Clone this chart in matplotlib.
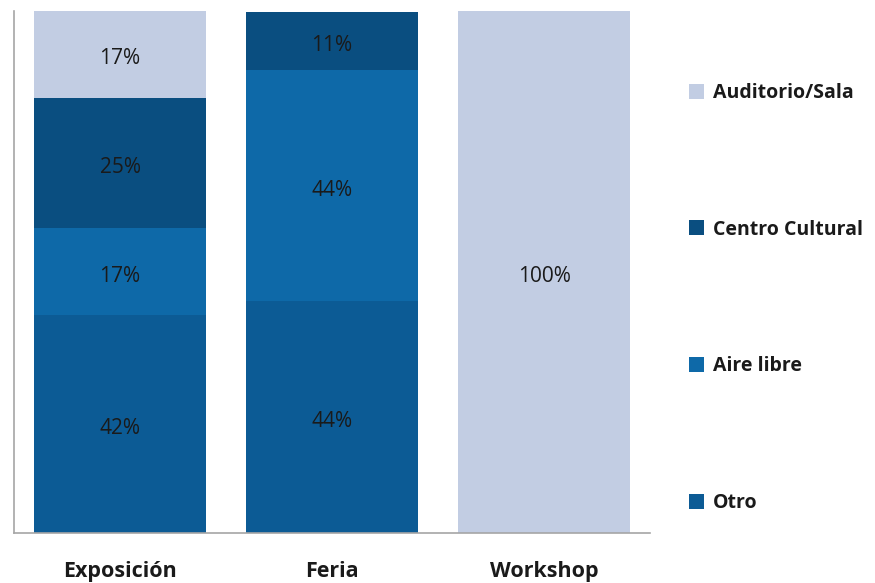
import matplotlib
matplotlib.use("Agg")
import matplotlib.pyplot as plt
import numpy as np

plt.rcParams['font.family'] = ['Open Sans', 'DejaVu Sans']

# Share of each venue type per event type (%)
events = ['Exposición', 'Feria', 'Workshop']
venues = ['Otro', 'Aire libre', 'Centro Cultural', 'Auditorio/Sala']
shares = {
    'Otro':            [41.7, 44.4, 0.0],
    'Aire libre':      [16.7, 44.4, 0.0],
    'Centro Cultural': [25.0, 11.1, 0.0],
    'Auditorio/Sala':  [16.7, 0.0, 100.0],
}
colors = {
    'Otro': '#0c5b95',
    'Aire libre': '#0e69a8',
    'Centro Cultural': '#0a4e80',
    'Auditorio/Sala': '#c2cde3',
}

fig = plt.figure(figsize=(8.75, 5.83), dpi=100)
ax = fig.add_axes([0.016, 0.086, 0.727, 0.895])

x = np.arange(len(events))
bottom = np.zeros(len(events))
handles = []
for v in venues:
    vals = np.array(shares[v])
    bars = ax.bar(x, vals, width=0.81, bottom=bottom, color=colors[v], label=v)
    handles.append(bars)
    for xi, b, val in zip(x, bottom, vals):
        if val > 0:
            ax.annotate(f'{val:.0f}%', (xi, b + val / 2), xytext=(0, -3.5),
                        textcoords='offset points', ha='center', va='center',
                        fontsize=15, color='#1a1a1a')
    bottom += vals

ax.set_xlim(-0.5, 2.5)
ax.set_ylim(0, 100)
ax.set_yticks([])
ax.set_xticks(x)
ax.set_xticklabels(events, fontsize=15.5, fontweight='bold', color='#1a1a1a')
ax.tick_params(axis='x', length=0, pad=20)
for s in ['top', 'right']:
    ax.spines[s].set_visible(False)
for s in ['left', 'bottom']:
    ax.spines[s].set_color('#a6a6a6')
    ax.spines[s].set_linewidth(1.2)

leg = fig.legend(handles[::-1], venues[::-1], loc='center left',
                 bbox_to_anchor=(0.767, 0.489), frameon=False,
                 prop={'size': 14, 'weight': 'bold'},
                 labelspacing=6.0, handlelength=0.8, handleheight=0.8,
                 handletextpad=0.45)
for t in leg.get_texts():
    t.set_color('#1a1a1a')

fig.savefig('out.png', dpi=100)
